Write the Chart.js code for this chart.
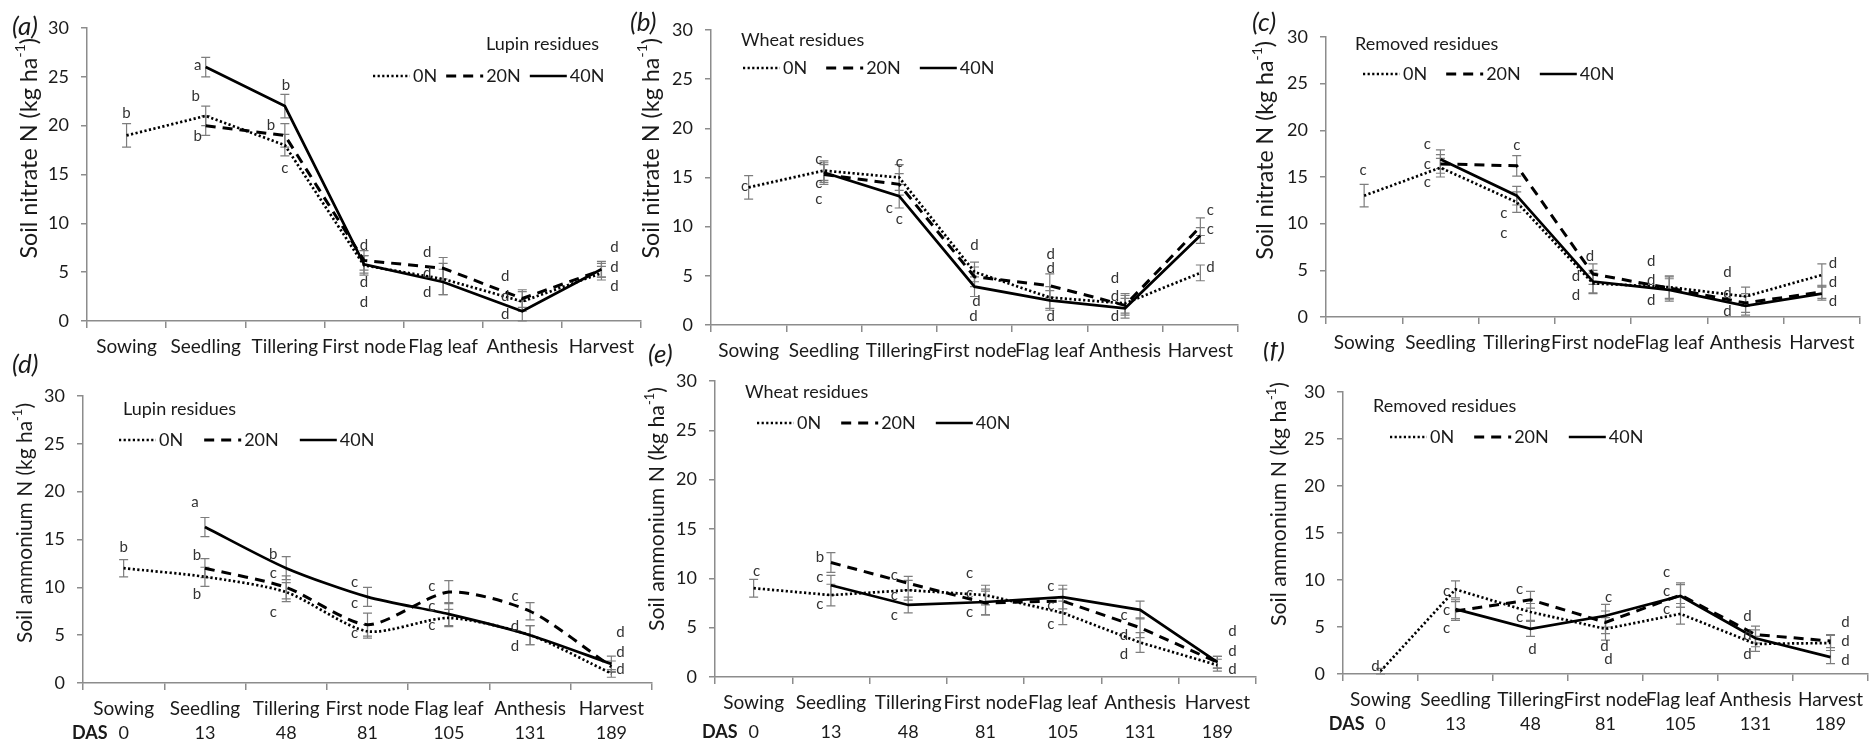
<!DOCTYPE html>
<html>
<head>
<meta charset="utf-8">
<script src="https://cdn.jsdelivr.net/npm/chart.js@4.4.1/dist/chart.umd.min.js"></script>
<style>
body { margin: 0; background: #fff; }
#fig { position: relative; width: 1872px; height: 745px; overflow: hidden; background: #fff; }
#fig canvas { position: absolute; }
</style>
</head>
<body>
<div id="fig"></div>
<script>
// growth stages and days after sowing
var categories = ['Sowing', 'Seedling', 'Tillering', 'First node', 'Flag leaf', 'Anthesis', 'Harvest'];
var dasDays = [0, 13, 48, 81, 105, 131, 189];
var nRates = ['0N', '20N', '40N'];
var yTicks = [0, 5, 10, 15, 20, 25, 30];

// (a) nitrate, lupin residues
var a0 = [19, 21, 18, 5.7, 4.3, 2.0, 4.9];
var a20 = [null, 20, 19, 6.2, 5.4, 2.3, 5.2];
var a40 = [null, 26, 22, 5.8, 4.0, 1.0, 5.3];
var aErr0 = [1.2, 1.0, 1.1, 1.0, 1.6, 1.0, 0.7];
var aErr20 = [null, 1.0, 1.2, 1.0, 1.1, 0.9, 0.7];
var aErr40 = [null, 1.0, 1.2, 0.9, 1.3, 1.0, 0.8];

// (b) nitrate, wheat residues
var b0 = [14, 15.7, 15.0, 5.4, 2.8, 2.2, 5.3];
var b20 = [null, 15.3, 14.3, 4.9, 4.0, 2.0, 10.0];
var b40 = [null, 15.5, 13.1, 3.9, 2.5, 1.7, 9.1];
var bErr0 = [1.2, 1.0, 1.3, 1.0, 1.1, 1.0, 0.8];
var bErr20 = [null, 1.0, 1.1, 1.0, 1.2, 1.0, 0.9];
var bErr40 = [null, 1.0, 1.2, 1.0, 1.0, 1.0, 0.8];

// (c) nitrate, removed residues
var c0 = [13, 16, 12.3, 3.6, 3.2, 2.2, 4.5];
var c20 = [null, 16.4, 16.2, 4.6, 3.1, 1.5, 2.7];
var c40 = [null, 16.9, 13.0, 3.8, 2.9, 1.2, 2.5];
var cErr0 = [1.2, 1.0, 1.1, 1.1, 1.2, 1.0, 1.2];
var cErr20 = [null, 1.0, 1.1, 1.1, 1.2, 1.0, 0.7];
var cErr40 = [null, 1.0, 1.0, 1.2, 1.2, 1.0, 0.7];

// (d) ammonium, lupin residues
var d0 = [12, 11.1, 9.5, 5.4, 6.8, 5.0, 1.0];
var d20 = [null, 12.0, 10.0, 6.1, 9.5, 7.5, 1.7];
var d40 = [null, 16.3, 12.0, 9.0, 7.2, 5.0, 2.0];
var dErr0 = [0.9, 1.0, 1.0, 0.7, 0.9, 1.0, 0.4];
var dErr20 = [null, 1.0, 1.2, 1.2, 1.2, 0.9, 0.6];
var dErr40 = [null, 1.0, 1.2, 1.0, 1.2, 1.0, 0.8];

// (e) ammonium, wheat residues
var e0 = [9.0, 8.3, 8.8, 8.3, 6.5, 3.5, 1.2];
var e20 = [null, 11.6, 9.5, 7.5, 7.7, 5.0, 1.5];
var e40 = [null, 9.3, 7.3, 7.6, 8.1, 6.8, 1.5];
var eErr0 = [0.9, 1.1, 1.0, 1.0, 1.2, 1.0, 0.6];
var eErr20 = [null, 1.0, 0.7, 1.2, 1.2, 1.0, 0.6];
var eErr40 = [null, 1.0, 0.8, 1.3, 1.2, 0.9, 0.6];

// (f) ammonium, removed residues
var f0 = [0.3, 9.0, 6.6, 4.8, 6.4, 3.2, 3.3];
var f20 = [null, 6.7, 7.9, 5.5, 8.4, 4.2, 3.5];
var f40 = [null, 6.9, 4.8, 6.2, 8.3, 3.8, 1.8];
var fErr0 = [0.3, 0.9, 0.9, 1.2, 1.1, 0.8, 0.8];
var fErr20 = [null, 1.0, 0.9, 1.2, 1.3, 0.9, 0.7];
var fErr40 = [null, 1.0, 0.8, 1.2, 1.2, 0.9, 0.7];

// significance letters: [stage, height on y axis, letter, sideways nudge px]
var aLetters = [[0,21.3,'b',0],[1,26.2,'a',-8],[1,23.0,'b',-10],[1,18.9,'b',-8],[2,24.1,'b',1],[2,20.1,'b',-14],[2,15.6,'c',0],
  [3,7.8,'d',0],[3,4.0,'d',0],[3,1.9,'d',0],[4,7.0,'d',-16],[4,4.9,'d',-16],[4,3.0,'d',-16],[5,4.6,'d',-17],[5,2.5,'d',-17],[5,0.7,'d',-17],
  [6,7.6,'d',13],[6,5.5,'d',13],[6,3.6,'d',13]];
var bLetters = [[0,14.1,'c',-4],[1,16.9,'c',-5],[1,14.4,'c',-5],[1,12.8,'c',-5],[2,16.6,'c',0],[2,11.9,'c',-10],[2,10.8,'c',0],
  [3,8.1,'d',0],[3,2.4,'d',2],[3,0.95,'d',-1],[4,7.2,'d',1],[4,5.8,'d',1],[4,0.85,'d',1],[5,4.8,'d',-10],[5,2.9,'d',-10],[5,0.85,'d',-10],
  [6,11.7,'c',10],[6,9.7,'c',10],[6,5.9,'d',10]];
var cLetters = [[0,15.7,'c',-1],[1,18.5,'c',-13],[1,16.4,'c',-13],[1,14.4,'c',-13],[2,18.4,'c',0],[2,11.1,'c',-13],[2,9.0,'c',-13],
  [3,6.5,'d',-3],[3,4.35,'d',-17],[3,2.3,'d',-17],[4,5.95,'d',-18],[4,4.0,'d',-18],[4,1.85,'d',-18],[5,4.8,'d',-18],[5,2.6,'d',-18],[5,0.6,'d',-18],
  [6,5.8,'d',11],[6,3.7,'d',11],[6,1.7,'d',11]];
var dLetters = [[0,14.2,'b',0],[1,18.9,'a',-10],[1,13.4,'b',-8],[1,9.3,'b',-8],[2,13.5,'b',-13],[2,11.5,'c',-13],[2,7.4,'c',-13],
  [3,10.5,'c',-13],[3,8.3,'c',-13],[3,5.2,'c',-13],[4,10.1,'c',-17],[4,8.0,'c',-17],[4,6.0,'c',-17],[5,9.1,'c',-15],[5,5.9,'d',-15],[5,3.8,'d',-15],
  [6,5.3,'d',9],[6,3.2,'d',9],[6,1.4,'d',9]];
var eLetters = [[0,10.7,'c',3],[1,12.15,'b',-11],[1,10.1,'c',-11],[1,7.4,'c',-11],[2,10.3,'c',-14],[2,8.3,'c',-14],[2,6.25,'c',-14],
  [3,10.5,'c',-16],[3,8.5,'c',-16],[3,6.6,'c',-16],[4,9.25,'c',-12],[4,7.25,'c',-12],[4,5.35,'c',-12],[5,6.25,'c',-16],[5,4.25,'d',-16],[5,2.3,'d',-16],
  [6,4.6,'d',15],[6,2.6,'d',15],[6,0.8,'d',15]];
var fLetters = [[0,0.85,'d',-5],[1,8.85,'c',-9],[1,6.8,'c',-9],[1,4.85,'c',-9],[2,9.0,'c',-11],[2,6.0,'c',-11],[2,2.6,'d',2],
  [3,8.2,'c',3],[3,3.0,'d',-1],[3,1.6,'d',3],[4,10.8,'c',-14],[4,8.85,'c',-14],[4,6.9,'c',-14],[5,6.2,'d',-8],[5,4.1,'d',-8],[5,2.1,'d',-8],
  [6,5.5,'d',15],[6,3.5,'d',15],[6,1.5,'d',15]];

var nitrateTitle = 'Soil nitrate N (kg ha';
var ammoniumTitle = 'Soil ammonium N (kg ha';

var axisGrey = '#8c8c8c';
var textCol = '#1a1a1a';
var pad = { left: 95, top: 50, right: 30, bottom: 75 };

var lineStyles = [
  { borderDash: [2.2, 2.4], borderWidth: 2.7 },
  { borderDash: [10, 7], borderWidth: 3 },
  { borderDash: [], borderWidth: 2.7 }
];

var panels = [
  { tag: '(a)', yTitle: nitrateTitle, titleLen: 221, residue: 'Lupin residues', series: [a0, a20, a40], errors: [aErr0, aErr20, aErr40], letters: aLetters,
    box: { L: 87, T: 28, R: 641, B: 321 }, tagAt: [12, 27], leg: { tx: 399, ty: 16, rx: 286, ry: 48, gap: 9 }, titleDx: -58, titleTop: 10 },
  { tag: '(b)', yTitle: nitrateTitle, titleLen: 221, residue: 'Wheat residues', series: [b0, b20, b40], errors: [bErr0, bErr20, bErr40], letters: bLetters,
    box: { L: 711, T: 30, R: 1238, B: 325 }, tagAt: [630, 23], leg: { tx: 30, ty: 10, rx: 32, ry: 38, gap: 19 }, titleDx: -60, titleTop: 8 },
  { tag: '(c)', yTitle: nitrateTitle, titleLen: 219, residue: 'Removed residues', series: [c0, c20, c40], errors: [cErr0, cErr20, cErr40], letters: cLetters,
    box: { L: 1326, T: 37, R: 1860, B: 317 }, tagAt: [1252, 23], leg: { tx: 29, ty: 7, rx: 37, ry: 37, gap: 19 }, titleDx: -60, titleTop: 4 },
  { tag: '(d)', yTitle: ammoniumTitle, titleLen: 240, residue: 'Lupin residues', series: [d0, d20, d40], errors: [dErr0, dErr20, dErr40], letters: dLetters,
    box: { L: 83, T: 396, R: 652, B: 683 }, tagAt: [12, 365], leg: { tx: 40, ty: 13, rx: 36, ry: 44, gap: 21 }, dasY: 50, titleDx: -58, titleTop: 7, tension: 0.25 },
  { tag: '(e)', yTitle: ammoniumTitle, titleLen: 244, residue: 'Wheat residues', series: [e0, e20, e40], errors: [eErr0, eErr20, eErr40], letters: eLetters,
    box: { L: 715, T: 381, R: 1256, B: 677 }, tagAt: [648, 355], leg: { tx: 30, ty: 11, rx: 42, ry: 42, gap: 20 }, dasY: 55, titleDx: -58, titleTop: 6 },
  { tag: '(f)', yTitle: ammoniumTitle, titleLen: 244, residue: 'Removed residues', series: [f0, f20, f40], errors: [fErr0, fErr20, fErr40], letters: fLetters,
    box: { L: 1343, T: 392, R: 1868, B: 674 }, tagAt: [1263, 350], leg: { tx: 30, ty: 14, rx: 47, ry: 45, gap: 20 }, dasY: 50, titleDx: -64, titleTop: -10 }
];

var labelGap = 26;

Chart.defaults.font.family = 'Lato, "Open Sans", sans-serif';
Chart.defaults.color = textCol;

function decorPlugin(p) {
  var ox = p.box.L - pad.left, oy = p.box.T - pad.top;
  return {
    id: 'decor',
    beforeDatasetsDraw: function(chart) {
      // error bars
      var ctx = chart.ctx, ys = chart.scales.y;
      ctx.save();
      ctx.strokeStyle = '#7d7d7d';
      ctx.lineWidth = 1.2;
      p.errors.forEach(function(err, k) {
        var meta = chart.getDatasetMeta(k);
        err.forEach(function(e, i) {
          var v = p.series[k][i];
          if (v === null || e === null) return;
          var x = meta.data[i].x;
          var y1 = ys.getPixelForValue(v + e), y2 = ys.getPixelForValue(Math.max(v - e, 0));
          ctx.beginPath();
          ctx.moveTo(x, y1); ctx.lineTo(x, y2);
          ctx.moveTo(x - 4.5, y1); ctx.lineTo(x + 4.5, y1);
          ctx.moveTo(x - 4.5, y2); ctx.lineTo(x + 4.5, y2);
          ctx.stroke();
        });
      });
      ctx.restore();
    },
    afterDatasetsDraw: function(chart) {
      var ctx = chart.ctx, xs = chart.scales.x, ys = chart.scales.y;
      ctx.save();
      ctx.font = '15px Lato';
      ctx.fillStyle = '#333';
      ctx.textAlign = 'center';
      ctx.textBaseline = 'middle';
      p.letters.forEach(function(l) {
        ctx.fillText(l[2], xs.getPixelForValue(l[0]) + l[3], ys.getPixelForValue(l[1]));
      });
      ctx.restore();
    },
    afterDraw: function(chart) {
      var ctx = chart.ctx, area = chart.chartArea, xs = chart.scales.x;
      ctx.save();
      ctx.fillStyle = textCol;
      ctx.textBaseline = 'middle';

      // stage names under the axis
      ctx.font = '19px Lato';
      ctx.textAlign = 'center';
      categories.forEach(function(c, i) {
        ctx.fillText(c, xs.getPixelForValue(i), area.bottom + labelGap);
      });

      // days after sowing row
      if (p.dasY) {
        var dy = area.bottom + p.dasY;
        ctx.font = 'bold 18px Lato';
        ctx.textAlign = 'right';
        ctx.fillText('DAS', xs.getPixelForValue(0) - 16, dy);
        ctx.font = '18px Lato';
        ctx.textAlign = 'center';
        dasDays.forEach(function(d, i) {
          ctx.fillText(String(d), xs.getPixelForValue(i), dy);
        });
      }

      ctx.textAlign = 'left';
      // panel tag
      ctx.font = 'italic 26px Lato';
      ctx.fillText(p.tag, p.tagAt[0] - ox, p.tagAt[1] - oy);

      // legend: residue name and the three N rates
      ctx.font = '18px Lato';
      ctx.fillText(p.residue, area.left + p.leg.tx, area.top + p.leg.ty);
      var x = area.left + p.leg.rx, y = area.top + p.leg.ry;
      chart.data.datasets.forEach(function(ds) {
        ctx.save();
        ctx.strokeStyle = '#000';
        ctx.lineWidth = ds.borderWidth;
        ctx.setLineDash(ds.borderDash);
        ctx.beginPath();
        ctx.moveTo(x, y); ctx.lineTo(x + 37, y);
        ctx.stroke();
        ctx.restore();
        ctx.fillText(ds.label, x + 40, y);
        x += 40 + ctx.measureText(ds.label).width + p.leg.gap;
      });

      // rotated y axis title with superscript unit, sized to its length
      function widths(size) {
        ctx.font = size + 'px Lato';
        var w1 = ctx.measureText(p.yTitle).width, w3 = ctx.measureText(')').width;
        ctx.font = Math.round(size * 0.62) + 'px Lato';
        var w2 = ctx.measureText('-1').width;
        return [w1, w2, w3];
      }
      var ws = widths(23);
      var size = 23 * p.titleLen / (ws[0] + ws[1] + ws[2]);
      ws = widths(size);
      var total = ws[0] + ws[1] + ws[2];
      ctx.save();
      ctx.translate(area.left + p.titleDx, area.top + p.titleTop + total);
      ctx.rotate(-Math.PI / 2);
      ctx.font = size + 'px Lato'; ctx.fillText(p.yTitle, 0, 0);
      ctx.font = Math.round(size * 0.62) + 'px Lato'; ctx.fillText('-1', ws[0], -size * 0.36);
      ctx.font = size + 'px Lato'; ctx.fillText(')', ws[0] + ws[1], 0);
      ctx.restore();

      ctx.restore();
    }
  };
}

function buildPanel(p) {
  var b = p.box;
  var cv = document.createElement('canvas');
  var w = pad.left + (b.R - b.L) + pad.right;
  var h = pad.top + (b.B - b.T) + pad.bottom;
  cv.width = w; cv.height = h;
  cv.style.width = w + 'px'; cv.style.height = h + 'px';
  cv.style.left = (b.L - pad.left) + 'px';
  cv.style.top = (b.T - pad.top) + 'px';
  document.getElementById('fig').appendChild(cv);

  var datasets = p.series.map(function(vals, k) {
    return {
      label: nRates[k],
      data: vals,
      borderColor: '#000',
      borderWidth: lineStyles[k].borderWidth,
      borderDash: lineStyles[k].borderDash,
      borderCapStyle: 'butt',
      pointRadius: 0,
      tension: p.tension || 0,
      fill: false
    };
  });

  new Chart(cv.getContext('2d'), {
    type: 'line',
    data: { labels: categories, datasets: datasets },
    options: {
      responsive: false,
      animation: false,
      devicePixelRatio: 1,
      layout: { padding: { left: 0, top: pad.top, right: pad.right, bottom: 0 } },
      plugins: { legend: { display: false }, tooltip: { enabled: false } },
      scales: {
        x: {
          type: 'category',
          offset: true,
          grid: { offset: true, drawOnChartArea: false, drawTicks: true, tickLength: 7, color: axisGrey, lineWidth: 1.5 },
          border: { color: axisGrey, width: 1.5 },
          ticks: { display: false },
          afterFit: function(s) { s.height = pad.bottom; }
        },
        y: {
          min: 0, max: 30,
          afterBuildTicks: function(s) { s.ticks = yTicks.map(function(v) { return { value: v }; }); },
          grid: { drawOnChartArea: false, drawTicks: true, tickLength: 6, color: axisGrey, lineWidth: 1.5 },
          border: { color: axisGrey, width: 1.5 },
          ticks: { font: { size: 18 }, color: textCol, padding: 12 },
          afterFit: function(s) { s.width = pad.left; }
        }
      }
    },
    plugins: [decorPlugin(p)]
  });
}

panels.forEach(buildPanel);
</script>
</body>
</html>
